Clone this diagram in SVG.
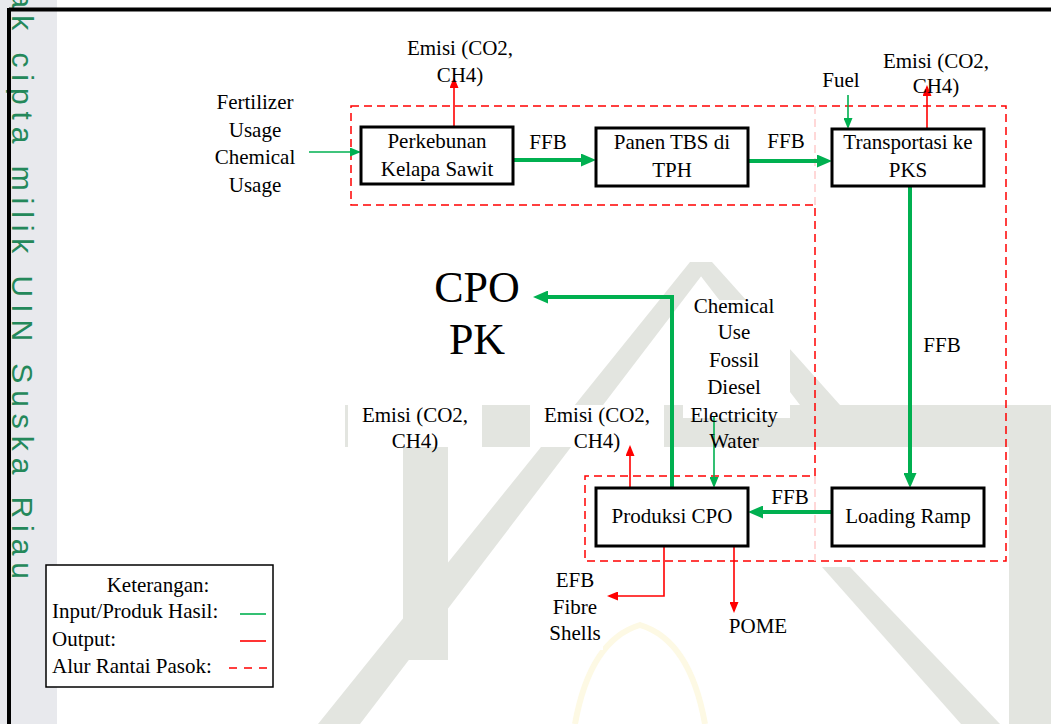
<svg xmlns="http://www.w3.org/2000/svg" width="1051" height="724" viewBox="0 0 1051 724">
  <defs>
    <style>
      .t { font-family: "Liberation Serif", "Times New Roman", serif; font-size: 21px; fill: #000; }
      .big { font-family: "Liberation Serif", "Times New Roman", serif; font-size: 44px; fill: #000; }
      .box { fill: #fff; stroke: #000; stroke-width: 3; }
      .gth { fill: none; stroke: #00b050; stroke-width: 4; }
      .gtn { fill: none; stroke: #00b050; stroke-width: 1.6; }
      .rtn { fill: none; stroke: #ff0000; stroke-width: 1.6; }
      .dash { fill: none; stroke: #ff0000; stroke-width: 1.5; stroke-dasharray: 8 5; }
      .pink { fill: none; stroke: #ffcccc; stroke-width: 1.5; stroke-dasharray: 8 5; }
      .wm { fill: #e3e5e0; }
      .lbl { fill: #fff; }
    </style>
    <marker id="ag" markerUnits="userSpaceOnUse" markerWidth="15" markerHeight="13" viewBox="0 0 15 13" refX="10" refY="6.5" orient="auto">
      <path d="M0,0 L15,6.5 L0,13 z" fill="#00b050"/>
    </marker>
    <marker id="agt" markerUnits="userSpaceOnUse" markerWidth="11" markerHeight="9" viewBox="0 0 11 9" refX="9" refY="4.5" orient="auto">
      <path d="M0,0 L11,4.5 L0,9 z" fill="#00b050"/>
    </marker>
    <marker id="art" markerUnits="userSpaceOnUse" markerWidth="11" markerHeight="9" viewBox="0 0 11 9" refX="9" refY="4.5" orient="auto">
      <path d="M0,0 L11,4.5 L0,9 z" fill="#ff0000"/>
    </marker>
  </defs>

  <rect x="0" y="0" width="1051" height="724" fill="#fff"/>

  <g id="watermark">
    <polygon class="wm" points="690,262 712,262 360,724 318,724"/>
    <polygon class="wm" points="690,262 712,262 840,405 800,405"/>
    <rect class="wm" x="345" y="405" width="706" height="42"/>
    <rect class="wm" x="403" y="447" width="45" height="213"/>
    <rect class="wm" x="1009" y="447" width="42" height="277"/>
    <polygon class="wm" points="822,567 850,567 1000,724 961,724"/>
    <path d="M575,724 Q590,640 640,625 Q690,640 705,724" fill="none" stroke="#fdf9e4" stroke-width="6"/>
    <rect class="lbl" x="348" y="405" width="134" height="42"/>
    <rect class="lbl" x="530" y="405" width="134" height="42"/>
    <rect class="lbl" x="683" y="300" width="107" height="118"/>
    <rect class="lbl" x="543" y="573" width="60" height="77"/>
  </g>

  <g id="margin">
    <rect x="0" y="0" width="57" height="724" fill="#e8e9ed"/>
    <text transform="translate(12,-37) rotate(90)" x="0" y="0" font-family="'Liberation Sans', Arial, sans-serif" font-size="30" fill="#24885a" textLength="616" lengthAdjust="spacing">Hak cipta milik UIN Suska Riau</text>
    <line x1="9" y1="9.5" x2="1051" y2="9.5" stroke="#000" stroke-width="4"/>
    <line x1="9" y1="8" x2="9" y2="724" stroke="#000" stroke-width="4"/>
  </g>

  <g id="supply-chain-boundary">
    <polygon class="dash" points="351,106 1006,106 1006,561 585,561 585,476 815,476 815,205 351,205"/>
    <line class="pink" x1="815" y1="106" x2="815" y2="205"/>
    <line class="pink" x1="815" y1="476" x2="815" y2="561"/>
  </g>

  <g id="connectors">
    <line class="gth" x1="513" y1="160" x2="591" y2="160" marker-end="url(#ag)"/>
    <line class="gth" x1="748" y1="161" x2="827" y2="161" marker-end="url(#ag)"/>
    <line class="gth" x1="910" y1="186" x2="910" y2="483" marker-end="url(#ag)"/>
    <line class="gth" x1="832" y1="512" x2="753" y2="512" marker-end="url(#ag)"/>
    <polyline class="gth" points="672,488 672,297 538,297" marker-end="url(#ag)"/>
    <line class="gtn" x1="309" y1="152" x2="359" y2="152" marker-end="url(#agt)"/>
    <line class="gtn" x1="848" y1="95" x2="848" y2="127" marker-end="url(#agt)"/>
    <line class="gtn" x1="714" y1="417" x2="714" y2="486" marker-end="url(#agt)"/>
    <line class="rtn" x1="454" y1="127" x2="454" y2="79" marker-end="url(#art)"/>
    <line class="rtn" x1="927" y1="129" x2="927" y2="87" marker-end="url(#art)"/>
    <line class="rtn" x1="630" y1="488" x2="630" y2="447" marker-end="url(#art)"/>
    <polyline class="rtn" points="664,546 664,596 609,596" marker-end="url(#art)"/>
    <line class="rtn" x1="734" y1="546" x2="734" y2="611" marker-end="url(#art)"/>
  </g>

  <g id="perkebunan">
    <rect class="box" x="361" y="127" width="152" height="57"/>
    <text class="t" x="437" y="148" text-anchor="middle">Perkebunan</text>
    <text class="t" x="437" y="176" text-anchor="middle">Kelapa Sawit</text>
  </g>
  <g id="panen">
    <rect class="box" x="596" y="128" width="152" height="58"/>
    <text class="t" x="672" y="149" text-anchor="middle">Panen TBS di</text>
    <text class="t" x="672" y="177" text-anchor="middle">TPH</text>
  </g>
  <g id="transportasi">
    <rect class="box" x="832" y="129" width="152" height="57"/>
    <text class="t" x="908" y="149" text-anchor="middle">Transportasi ke</text>
    <text class="t" x="908" y="177" text-anchor="middle">PKS</text>
  </g>
  <g id="loading-ramp">
    <rect class="box" x="832" y="488" width="152" height="58"/>
    <text class="t" x="908" y="523" text-anchor="middle">Loading Ramp</text>
  </g>
  <g id="produksi-cpo">
    <rect class="box" x="596" y="488" width="152" height="58"/>
    <text class="t" x="672" y="523" text-anchor="middle">Produksi CPO</text>
  </g>

  <g id="labels">
    <text class="t" x="460" y="55" text-anchor="middle">Emisi (CO2,</text>
    <text class="t" x="460" y="82" text-anchor="middle">CH4)</text>
    <text class="t" x="255" y="109" text-anchor="middle">Fertilizer</text>
    <text class="t" x="255" y="137" text-anchor="middle">Usage</text>
    <text class="t" x="255" y="164" text-anchor="middle">Chemical</text>
    <text class="t" x="255" y="192" text-anchor="middle">Usage</text>
    <text class="t" x="548" y="149" text-anchor="middle">FFB</text>
    <text class="t" x="786" y="148" text-anchor="middle">FFB</text>
    <text class="t" x="841" y="87" text-anchor="middle">Fuel</text>
    <text class="t" x="936" y="68" text-anchor="middle">Emisi (CO2,</text>
    <text class="t" x="936" y="93" text-anchor="middle">CH4)</text>
    <text class="t" x="942" y="352" text-anchor="middle">FFB</text>
    <text class="t" x="790" y="504" text-anchor="middle">FFB</text>
    <text class="big" x="477" y="302" text-anchor="middle">CPO</text>
    <text class="big" x="477" y="354" text-anchor="middle">PK</text>
    <text class="t" x="734" y="313" text-anchor="middle">Chemical</text>
    <text class="t" x="734" y="339" text-anchor="middle">Use</text>
    <text class="t" x="734" y="367" text-anchor="middle">Fossil</text>
    <text class="t" x="734" y="394" text-anchor="middle">Diesel</text>
    <text class="t" x="734" y="422" text-anchor="middle">Electricity</text>
    <text class="t" x="734" y="448" text-anchor="middle">Water</text>
    <text class="t" x="415" y="422" text-anchor="middle">Emisi (CO2,</text>
    <text class="t" x="415" y="448" text-anchor="middle">CH4)</text>
    <text class="t" x="597" y="422" text-anchor="middle">Emisi (CO2,</text>
    <text class="t" x="597" y="448" text-anchor="middle">CH4)</text>
    <text class="t" x="575" y="587" text-anchor="middle">EFB</text>
    <text class="t" x="575" y="614" text-anchor="middle">Fibre</text>
    <text class="t" x="575" y="640" text-anchor="middle">Shells</text>
    <text class="t" x="758" y="633" text-anchor="middle">POME</text>
  </g>

  <g id="legend">
    <rect x="46" y="565" width="227" height="122" fill="#fff" stroke="#000" stroke-width="1.5"/>
    <text class="t" x="158" y="592" text-anchor="middle">Keterangan:</text>
    <text class="t" x="52" y="618">Input/Produk Hasil:</text>
    <text class="t" x="52" y="646">Output:</text>
    <text class="t" x="52" y="673">Alur Rantai Pasok:</text>
    <line x1="240" y1="614" x2="266" y2="614" stroke="#00b050" stroke-width="1.6"/>
    <line x1="240" y1="641" x2="266" y2="641" stroke="#ff0000" stroke-width="1.6"/>
    <line x1="229" y1="668" x2="270" y2="668" stroke="#ff0000" stroke-width="1.6" stroke-dasharray="8 7"/>
  </g>
</svg>
